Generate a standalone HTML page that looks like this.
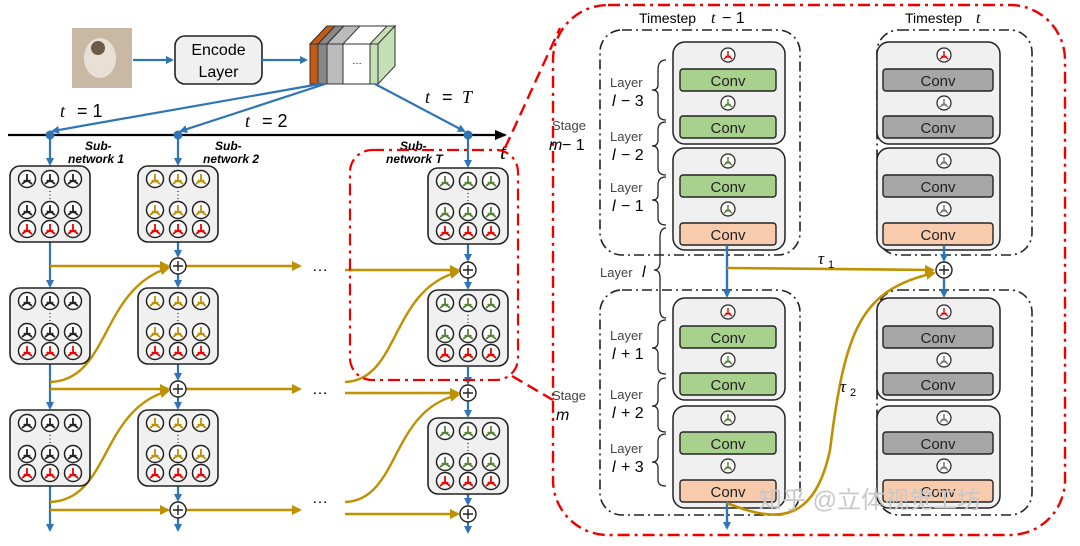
<!DOCTYPE html>
<html><head><meta charset="utf-8"><style>
html,body{margin:0;padding:0;background:#fff;width:1080px;height:546px;overflow:hidden}
svg{display:block}
text{font-family:"Liberation Sans",sans-serif}
.m{font-family:"Liberation Serif",serif;font-style:italic}
</style></head><body>
<svg width="1080" height="546" viewBox="0 0 1080 546" xmlns="http://www.w3.org/2000/svg">
<defs>
<marker id="ab" markerWidth="8" markerHeight="8" refX="6" refY="4" orient="auto" markerUnits="userSpaceOnUse"><path d="M0,0 L8,4 L0,8 z" fill="#2e75b6"/></marker>
<marker id="ay" markerWidth="10" markerHeight="10" refX="8" refY="5" orient="auto" markerUnits="userSpaceOnUse"><path d="M0,0 L10,5 L0,10 z" fill="#bf9000"/></marker>
<marker id="ak" markerWidth="12" markerHeight="10" refX="10" refY="5" orient="auto" markerUnits="userSpaceOnUse"><path d="M0,0 L12,5 L0,10 z" fill="#000"/></marker>
<g id="sp"><path d="M0,-5 L0,1 M0,1 L-5,5 M0,1 L5,5 M0,1 Q-1,4 -3,1 M0,1 Q1,4 3,1" fill="none" stroke-width="1.8"/></g>
<g id="nk"><circle r="8.5" fill="#fff" stroke="#222" stroke-width="1.5"/><use href="#sp" stroke="#222"/></g>
<g id="ny"><circle r="8.5" fill="#fff" stroke="#222" stroke-width="1.5"/><use href="#sp" stroke="#bf9000"/></g>
<g id="ng"><circle r="8.5" fill="#fff" stroke="#222" stroke-width="1.5"/><use href="#sp" stroke="#548235"/></g>
<g id="nr"><circle r="8.5" fill="#fff" stroke="#222" stroke-width="1.5"/><use href="#sp" stroke="#e00"/></g>
<g id="ns"><circle r="7" fill="#fff" stroke="#222" stroke-width="1.2"/><use href="#sp" stroke="#777" transform="scale(0.8)"/></g>
<g id="nsr"><circle r="7" fill="#fff" stroke="#222" stroke-width="1.2"/><use href="#sp" stroke="#e00" transform="scale(0.8)"/></g>
<g id="nsg"><circle r="7" fill="#fff" stroke="#222" stroke-width="1.2"/><use href="#sp" stroke="#548235" transform="scale(0.8)"/></g>
<g id="bk"><rect x="0" y="0" width="80" height="76" rx="10" fill="#f0f0f0" stroke="#222" stroke-width="1.6"/>
<use href="#nk" x="17" y="13"/><use href="#nk" x="40" y="13"/><use href="#nk" x="63" y="13"/>
<text x="40" y="32" font-size="10" text-anchor="middle">⋮</text>
<use href="#nk" x="17" y="44"/><use href="#nk" x="40" y="44"/><use href="#nk" x="63" y="44"/>
<use href="#nr" x="17" y="63"/><use href="#nr" x="40" y="63"/><use href="#nr" x="63" y="63"/></g>
<g id="by"><rect x="0" y="0" width="80" height="76" rx="10" fill="#f0f0f0" stroke="#222" stroke-width="1.6"/>
<use href="#ny" x="17" y="13"/><use href="#ny" x="40" y="13"/><use href="#ny" x="63" y="13"/>
<text x="40" y="32" font-size="10" text-anchor="middle">⋮</text>
<use href="#ny" x="17" y="44"/><use href="#ny" x="40" y="44"/><use href="#ny" x="63" y="44"/>
<use href="#nr" x="17" y="63"/><use href="#nr" x="40" y="63"/><use href="#nr" x="63" y="63"/></g>
<g id="bg"><rect x="0" y="0" width="80" height="76" rx="10" fill="#f0f0f0" stroke="#222" stroke-width="1.6"/>
<use href="#ng" x="17" y="13"/><use href="#ng" x="40" y="13"/><use href="#ng" x="63" y="13"/>
<text x="40" y="32" font-size="10" text-anchor="middle">⋮</text>
<use href="#ng" x="17" y="44"/><use href="#ng" x="40" y="44"/><use href="#ng" x="63" y="44"/>
<use href="#nr" x="17" y="63"/><use href="#nr" x="40" y="63"/><use href="#nr" x="63" y="63"/></g>
<g id="pl"><circle r="8" fill="#fff" stroke="#222" stroke-width="1.4"/><path d="M-5,0 H5 M0,-5 V5" stroke="#222" stroke-width="1.4"/></g>
</defs>

<!-- top -->
<rect x="72" y="28" width="60" height="60" fill="#c9b8a3"/>
<ellipse cx="100" cy="58" rx="16" ry="20" fill="#e8e0d4"/>
<ellipse cx="98" cy="48" rx="7" ry="7" fill="#6d5a48"/>
<line x1="133" y1="60" x2="172" y2="60" stroke="#2e75b6" stroke-width="2.2" marker-end="url(#ab)"/>
<rect x="175" y="36" width="87" height="48" rx="10" fill="#f0f0f0" stroke="#222" stroke-width="1.6"/>
<text x="218.5" y="55" font-size="16" text-anchor="middle">Encode</text>
<text x="218.5" y="77" font-size="16" text-anchor="middle">Layer</text>
<line x1="262" y1="60" x2="306" y2="60" stroke="#2e75b6" stroke-width="2.2" marker-end="url(#ab)"/>
<!-- cube -->
<polygon points="310,44 327,26 395,26 378,44" fill="#fff" stroke="#333"/>
<polygon points="310,44 327,26 335,26 318,44" fill="#c55a11" stroke="#333"/>
<polygon points="318,44 335,26 344,26 327,44" fill="#888" stroke="#333"/>
<polygon points="327,44 344,26 360,26 343,44" fill="#bbb" stroke="#333"/>
<polygon points="370,44 387,26 395,26 378,44" fill="#c5e0b4" stroke="#333"/>
<rect x="310" y="44" width="8" height="40" fill="#c55a11" stroke="#333"/>
<rect x="318" y="44" width="9" height="40" fill="#888" stroke="#333"/>
<rect x="327" y="44" width="16" height="40" fill="#bbb" stroke="#333"/>
<rect x="343" y="44" width="27" height="40" fill="#fff" stroke="#333"/>
<rect x="370" y="44" width="8" height="40" fill="#c5e0b4" stroke="#333"/>
<polygon points="378,44 395,26 395,66 378,84" fill="#c5e0b4" stroke="#333"/>
<text x="357" y="64" font-size="10" text-anchor="middle">…</text>

<!-- feeds -->
<line x1="320" y1="84" x2="53" y2="131" stroke="#2e75b6" stroke-width="2.2" marker-end="url(#ab)"/>
<line x1="325" y1="84" x2="181" y2="131" stroke="#2e75b6" stroke-width="2.2" marker-end="url(#ab)"/>
<line x1="375" y1="84" x2="464" y2="131" stroke="#2e75b6" stroke-width="2.2" marker-end="url(#ab)"/>
<text x="60" y="117" font-size="18" class="m">t</text><text x="77" y="117" font-size="18">= 1</text>
<text x="245" y="127" font-size="18" class="m">t</text><text x="262" y="127" font-size="18">= 2</text>
<text x="425" y="103" font-size="18" class="m">t</text><text x="442" y="103" font-size="18">= </text><text x="462" y="103" font-size="18" class="m">T</text>

<line x1="8" y1="135" x2="505" y2="135" stroke="#000" stroke-width="2.2" marker-end="url(#ak)"/>
<text x="500" y="159" font-size="22" class="m">t</text>
<circle cx="50" cy="135" r="4.5" fill="#2e75b6"/><circle cx="178" cy="135" r="4.5" fill="#2e75b6"/><circle cx="468" cy="135" r="4.5" fill="#2e75b6"/>
<g font-size="12" font-weight="bold" font-style="italic">
<text x="85" y="150">Sub-</text><text x="68" y="163">network 1</text>
<text x="215" y="150">Sub-</text><text x="203" y="163">network 2</text>
<text x="400" y="150">Sub-</text><text x="386" y="163">network T</text></g>

<!-- blue verticals -->
<g stroke="#2e75b6" stroke-width="2.2" fill="none" marker-end="url(#ab)">
<line x1="50" y1="135" x2="50" y2="164"/><line x1="50" y1="242" x2="50" y2="286"/><line x1="50" y1="364" x2="50" y2="408"/><line x1="50" y1="486" x2="50" y2="530"/>
<line x1="178" y1="135" x2="178" y2="164"/><line x1="178" y1="242" x2="178" y2="256"/><line x1="178" y1="274" x2="178" y2="286"/><line x1="178" y1="364" x2="178" y2="379"/><line x1="178" y1="397" x2="178" y2="408"/><line x1="178" y1="486" x2="178" y2="500"/><line x1="178" y1="518" x2="178" y2="530"/>
<line x1="468" y1="135" x2="468" y2="166"/><line x1="468" y1="244" x2="468" y2="260"/><line x1="468" y1="278" x2="468" y2="288"/><line x1="468" y1="367" x2="468" y2="383"/><line x1="468" y1="401" x2="468" y2="416"/><line x1="468" y1="494" x2="468" y2="504"/><line x1="468" y1="522" x2="468" y2="532"/>
</g>
<!-- yellow -->
<g stroke="#bf9000" stroke-width="2.4" fill="none">
<line x1="50" y1="266" x2="168" y2="266" marker-end="url(#ay)"/><line x1="186" y1="266" x2="300" y2="266" marker-end="url(#ay)"/><line x1="345" y1="270" x2="458" y2="270" marker-end="url(#ay)"/>
<line x1="50" y1="389" x2="168" y2="389" marker-end="url(#ay)"/><line x1="186" y1="389" x2="300" y2="389" marker-end="url(#ay)"/><line x1="345" y1="393" x2="458" y2="393" marker-end="url(#ay)"/>
<line x1="50" y1="510" x2="168" y2="510" marker-end="url(#ay)"/><line x1="186" y1="510" x2="300" y2="510" marker-end="url(#ay)"/><line x1="345" y1="514" x2="458" y2="514" marker-end="url(#ay)"/>
<path d="M50,382 C110,380 100,290 168,268" marker-end="url(#ay)"/>
<path d="M50,502 C110,500 100,410 168,391" marker-end="url(#ay)"/>
<path d="M345,382 C400,380 390,290 458,272" marker-end="url(#ay)"/>
<path d="M345,502 C400,500 390,410 458,395" marker-end="url(#ay)"/>
</g>
<g font-size="16"><text x="312" y="271">…</text><text x="312" y="394">…</text><text x="312" y="503">…</text></g>
<use href="#pl" x="178" y="266"/><use href="#pl" x="178" y="389"/><use href="#pl" x="178" y="510"/>
<use href="#pl" x="468" y="270"/><use href="#pl" x="468" y="393"/><use href="#pl" x="468" y="514"/>

<use href="#bk" x="10" y="166"/><use href="#bk" x="10" y="288"/><use href="#bk" x="10" y="410"/>
<use href="#by" x="138" y="166"/><use href="#by" x="138" y="288"/><use href="#by" x="138" y="410"/>
<use href="#bg" x="428" y="168"/><use href="#bg" x="428" y="290"/><use href="#bg" x="428" y="418"/>

<!-- red dashed -->
<rect x="350" y="150" width="168" height="230" rx="22" fill="none" stroke="#e00" stroke-width="2.2" stroke-dasharray="12,5,3,5"/>
<line x1="505" y1="148" x2="560" y2="28" stroke="#e00" stroke-width="2.4" stroke-dasharray="12,6"/>
<line x1="512" y1="376" x2="553" y2="400" stroke="#e00" stroke-width="2.4" stroke-dasharray="12,6"/>
<rect x="553" y="5" width="512" height="530" rx="55" fill="none" stroke="#e00" stroke-width="2.4" stroke-dasharray="12,5,3,5"/>

<!-- right panel -->
<text x="639" y="23" font-size="14">Timestep</text><text x="711" y="23" font-size="16" class="m">t</text><text x="722" y="23" font-size="16">− 1</text>
<text x="905" y="23" font-size="14">Timestep</text><text x="976" y="23" font-size="16" class="m">t</text>
<g fill="none" stroke="#222" stroke-width="1.6" stroke-dasharray="10,4,2,4">
<rect x="600" y="30" width="200" height="225" rx="22"/><rect x="600" y="290" width="200" height="225" rx="22"/>
<rect x="877" y="30" width="155" height="225" rx="22"/><rect x="877" y="290" width="155" height="225" rx="22"/></g>
<g fill="#f0f0f0" stroke="#222" stroke-width="1.5">
<rect x="673" y="42" width="112" height="102" rx="12"/><rect x="673" y="148" width="112" height="102" rx="12"/>
<rect x="673" y="298" width="112" height="102" rx="12"/><rect x="673" y="406" width="112" height="102" rx="12"/>
<rect x="877" y="42" width="123" height="102" rx="12"/><rect x="877" y="148" width="123" height="102" rx="12"/>
<rect x="877" y="298" width="123" height="102" rx="12"/><rect x="877" y="406" width="123" height="102" rx="12"/></g>
<g stroke="#222" stroke-width="1.4">
<rect x="680" y="69" width="96" height="22" rx="3" fill="#a9d18e"/><rect x="680" y="116" width="96" height="22" rx="3" fill="#a9d18e"/>
<rect x="680" y="175" width="96" height="22" rx="3" fill="#a9d18e"/><rect x="680" y="223" width="96" height="22" rx="3" fill="#f8cbad"/>
<rect x="680" y="326" width="96" height="22" rx="3" fill="#a9d18e"/><rect x="680" y="373" width="96" height="22" rx="3" fill="#a9d18e"/>
<rect x="680" y="432" width="96" height="22" rx="3" fill="#a9d18e"/><rect x="680" y="480" width="96" height="22" rx="3" fill="#f8cbad"/>
<rect x="883" y="69" width="110" height="22" rx="3" fill="#a6a6a6"/><rect x="883" y="116" width="110" height="22" rx="3" fill="#a6a6a6"/>
<rect x="883" y="175" width="110" height="22" rx="3" fill="#a6a6a6"/><rect x="883" y="223" width="110" height="22" rx="3" fill="#f8cbad"/>
<rect x="883" y="326" width="110" height="22" rx="3" fill="#a6a6a6"/><rect x="883" y="373" width="110" height="22" rx="3" fill="#a6a6a6"/>
<rect x="883" y="432" width="110" height="22" rx="3" fill="#a6a6a6"/><rect x="883" y="480" width="110" height="22" rx="3" fill="#f8cbad"/></g>
<g font-size="15" text-anchor="middle" fill="#222">
<text x="728" y="86">Conv</text><text x="728" y="133">Conv</text><text x="728" y="192">Conv</text><text x="728" y="240">Conv</text>
<text x="728" y="343">Conv</text><text x="728" y="390">Conv</text><text x="728" y="449">Conv</text><text x="728" y="497">Conv</text>
<text x="938" y="86">Conv</text><text x="938" y="133">Conv</text><text x="938" y="192">Conv</text><text x="938" y="240">Conv</text>
<text x="938" y="343">Conv</text><text x="938" y="390">Conv</text><text x="938" y="449">Conv</text><text x="938" y="497">Conv</text></g>
<use href="#nsr" x="728" y="55"/><use href="#nsg" x="728" y="103"/><use href="#nsg" x="728" y="161"/><use href="#nsg" x="728" y="209"/>
<use href="#nsr" x="728" y="312"/><use href="#nsg" x="728" y="360"/><use href="#nsg" x="728" y="418"/><use href="#nsg" x="728" y="466"/>
<use href="#nsr" x="944" y="55"/><use href="#ns" x="944" y="103"/><use href="#ns" x="944" y="161"/><use href="#ns" x="944" y="209"/>
<use href="#nsr" x="944" y="312"/><use href="#ns" x="944" y="360"/><use href="#ns" x="944" y="418"/><use href="#ns" x="944" y="466"/>

<g stroke="#2e75b6" stroke-width="2.4" fill="none" marker-end="url(#ab)">
<line x1="727" y1="245" x2="727" y2="296"/><line x1="727" y1="502" x2="727" y2="528"/>
<line x1="944" y1="245" x2="944" y2="260"/><line x1="944" y1="279" x2="944" y2="296"/></g>
<g stroke="#bf9000" stroke-width="2.6" fill="none">
<line x1="727" y1="268" x2="933" y2="270" marker-end="url(#ay)"/>
<path d="M727,503 C780,525 815,520 830,450 C845,330 860,290 934,273" marker-end="url(#ay)"/></g>
<use href="#pl" x="944" y="270"/>
<text x="818" y="264" font-size="17" class="m">τ</text><text x="828" y="268" font-size="11">1</text>
<text x="840" y="392" font-size="17" class="m">τ</text><text x="850" y="396" font-size="11">2</text>

<g font-size="13" fill="#444">
<text x="610" y="87">Layer</text><text x="610" y="141">Layer</text><text x="610" y="192">Layer</text>
<text x="610" y="340">Layer</text><text x="610" y="399">Layer</text><text x="610" y="453">Layer</text>
<text x="600" y="277">Layer</text><text x="552" y="130">Stage</text><text x="552" y="400">Stage</text></g>
<g font-size="16" class="m">
<text x="612" y="106">l</text><text x="621" y="106" font-style="normal">− 3</text>
<text x="612" y="160">l</text><text x="621" y="160" font-style="normal">− 2</text>
<text x="612" y="211">l</text><text x="621" y="211" font-style="normal">− 1</text>
<text x="612" y="359">l</text><text x="621" y="359" font-style="normal">+ 1</text>
<text x="612" y="418">l</text><text x="621" y="418" font-style="normal">+ 2</text>
<text x="612" y="472">l</text><text x="621" y="472" font-style="normal">+ 3</text>
<text x="642" y="277">l</text>
<text x="549" y="150">m</text><text x="562" y="150" font-style="normal">− 1</text>
<text x="556" y="420">m</text></g>
<g fill="none" stroke="#222" stroke-width="1.3">
<path d="M666,60 Q658,60 658,70 V85 Q658,90 652,90 Q658,90 658,95 V112 Q658,120 666,120"/>
<path d="M666,122 Q658,122 658,130 V140 Q658,146 652,146 Q658,146 658,152 V168 Q658,175 666,175"/>
<path d="M666,177 Q658,177 658,185 V195 Q658,200 652,200 Q658,200 658,205 V218 Q658,225 666,225"/>
<path d="M666,228 Q660,228 660,238 V262 Q660,270 654,270 Q660,270 660,278 V310 Q660,318 666,318"/>
<path d="M666,320 Q658,320 658,328 V342 Q658,348 652,348 Q658,348 658,354 V368 Q658,374 666,374"/>
<path d="M666,378 Q658,378 658,386 V400 Q658,406 652,406 Q658,406 658,412 V426 Q658,432 666,432"/>
<path d="M666,434 Q658,434 658,442 V456 Q658,462 652,462 Q658,462 658,468 V480 Q658,486 666,486"/></g>

<text x="758" y="508" font-size="24" fill="#c8c8c8" font-family="'Liberation Sans','Noto Sans CJK SC',sans-serif">知乎 @立体视觉工坊</text>
</svg>
</body></html>
